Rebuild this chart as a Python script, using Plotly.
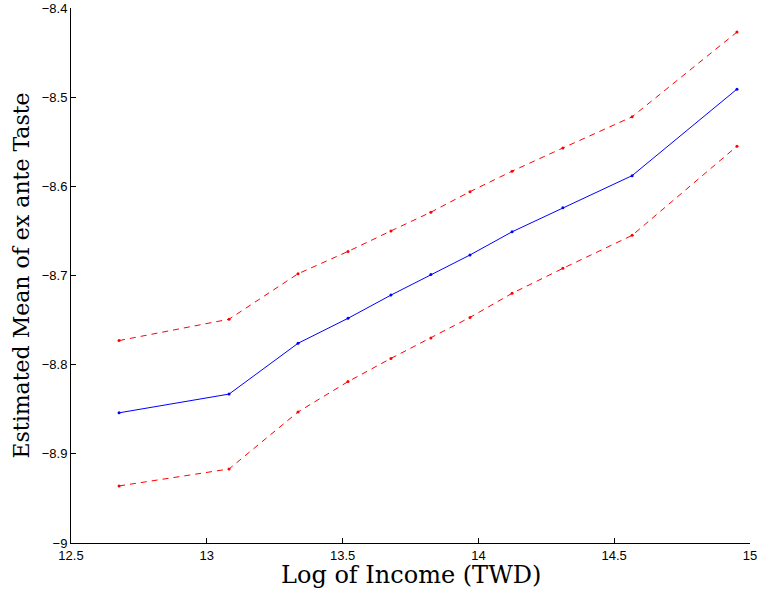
import plotly.graph_objects as go

log_income = [12.677, 13.082, 13.336, 13.52, 13.678, 13.825, 13.969, 14.124, 14.311, 14.566, 14.952]
mean_taste = [-8.854, -8.833, -8.776, -8.748, -8.722, -8.699, -8.677, -8.651, -8.624, -8.588, -8.491]
upper_band = [-8.773, -8.749, -8.698, -8.673, -8.650, -8.629, -8.606, -8.583, -8.557, -8.522, -8.427]
lower_band = [-8.936, -8.917, -8.853, -8.819, -8.793, -8.770, -8.747, -8.720, -8.692, -8.655, -8.555]

x_ticks = [12.5, 13, 13.5, 14, 14.5, 15]
x_tick_labels = ["12.5", "13", "13.5", "14", "14.5", "15"]
y_ticks = [-9, -8.9, -8.8, -8.7, -8.6, -8.5, -8.4]
y_tick_labels = ["\u22129", "\u22128.9", "\u22128.8", "\u22128.7", "\u22128.6", "\u22128.5", "\u22128.4"]

x_title = "Log of Income (TWD)"
y_title = "Estimated Mean of ex ante Taste"

fig = go.Figure()
for band in (upper_band, lower_band):
    fig.add_trace(go.Scatter(x=log_income, y=band, mode="lines+markers",
                             line=dict(color="#ff0000", width=1, dash="6px,5px"),
                             marker=dict(color="#ff0000", size=3),
                             showlegend=False, cliponaxis=False))
fig.add_trace(go.Scatter(x=log_income, y=mean_taste, mode="lines+markers",
                         line=dict(color="#0000ff", width=1),
                         marker=dict(color="#0000ff", size=3),
                         showlegend=False, cliponaxis=False))

axis_common = dict(showgrid=False, zeroline=False, showline=True, linecolor="black",
                   linewidth=1, ticks="inside", ticklen=5, tickcolor="black",
                   automargin=False,
                   tickfont=dict(family="Liberation Sans, Arial", size=13, color="black"))
fig.update_xaxes(range=[12.5, 15], tickvals=x_ticks, ticktext=x_tick_labels, **axis_common)
fig.update_yaxes(range=[-9, -8.4], tickvals=y_ticks, ticktext=y_tick_labels, **axis_common)

fig.add_annotation(text=x_title, xref="paper", yref="paper", x=0.5, y=0,
                   xanchor="center", yanchor="middle", yshift=-32, showarrow=False,
                   font=dict(family="DejaVu Serif", size=24, color="black"))
fig.add_annotation(text=y_title, xref="paper", yref="paper", x=0, y=0.5,
                   xanchor="center", yanchor="middle", xshift=-50, textangle=-90,
                   showarrow=False,
                   font=dict(family="DejaVu Serif", size=22, color="black"))

fig.update_layout(width=760, height=592, margin=dict(l=71, r=10, t=8, b=49),
                  plot_bgcolor="white", paper_bgcolor="white")
fig.write_html("out.html", config={"displayModeBar": False},
               post_script="document.body.style.margin='0';")
